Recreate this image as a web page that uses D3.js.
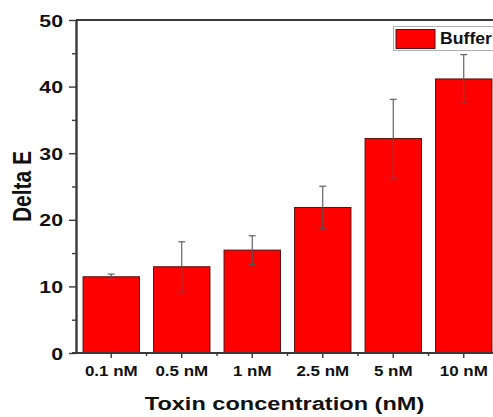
<!DOCTYPE html>
<html>
<head>
<meta charset="utf-8">
<script src="https://cdn.jsdelivr.net/npm/d3@7"></script>
<style>
  html, body { margin: 0; padding: 0; background: #fff; overflow: hidden; }
  text { font-family: "Liberation Sans", Arial, sans-serif; font-weight: bold; fill: #111; }
</style>
</head>
<body>
<svg id="chart" width="493" height="417"></svg>
<script>
const categories = ["0.1 nM", "0.5 nM", "1 nM", "2.5 nM", "5 nM", "10 nM"];
const values = [11.45, 12.95, 15.45, 21.85, 32.2, 41.15];
const errors = [0.4, 3.75, 2.15, 3.2, 5.9, 3.65];
const yTicks = [0, 10, 20, 30, 40, 50];
const yMinorTicks = [5, 15, 25, 35, 45];
const seriesName = "Buffer";
const xTitle = "Toxin concentration (nM)";
const yTitle = "Delta E";

const svg = d3.select("#chart");
const pLeft = 76, pRight = 499, pTop = 20, pBottom = 353;
const axisColor = "#3a3a3a";

const x = d3.scaleBand().domain(categories).range([pLeft, pRight]).paddingInner(0.2).paddingOuter(0.1);
const y = d3.scaleLinear().domain([0, 50]).range([pBottom, pTop]);

// bars
svg.append("g").selectAll("rect").data(values).join("rect")
  .attr("x", (d, i) => x(categories[i]))
  .attr("y", d => y(d))
  .attr("width", x.bandwidth())
  .attr("height", d => y(0) - y(d))
  .attr("fill", "#ff0000")
  .attr("stroke", "#5a1010")
  .attr("stroke-width", 1);

// error bars
const eg = svg.append("g").attr("stroke", "#555").attr("stroke-width", 1.1);
values.forEach((v, i) => {
  const cx = x(categories[i]) + x.bandwidth() / 2;
  eg.append("line").attr("x1", cx).attr("x2", cx).attr("y1", y(v + errors[i])).attr("y2", y(v - errors[i]));
  eg.append("line").attr("x1", cx - 3.5).attr("x2", cx + 3.5).attr("y1", y(v + errors[i])).attr("y2", y(v + errors[i]));
  eg.append("line").attr("x1", cx - 3.5).attr("x2", cx + 3.5).attr("y1", y(v - errors[i])).attr("y2", y(v - errors[i]));
});

// top frame line
svg.append("line").attr("x1", pLeft).attr("x2", pRight).attr("y1", pTop).attr("y2", pTop)
  .attr("stroke", axisColor).attr("stroke-width", 2.2);

// Y axis
const yAxis = svg.append("g").attr("transform", `translate(${pLeft},0)`)
  .call(d3.axisLeft(y).tickValues(yTicks).tickSize(7).tickSizeOuter(0).tickFormat(""));
yAxis.select(".domain").attr("stroke", axisColor).attr("stroke-width", 2.4);
yAxis.selectAll(".tick line").attr("stroke", axisColor).attr("stroke-width", 1.4);
yAxis.selectAll(".tick").append("text")
  .attr("transform", "translate(-13,0) scale(1.25,1)")
  .attr("text-anchor", "end")
  .attr("dy", "0.36em")
  .style("font-size", "17px")
  .text(d => d);
svg.append("g").attr("transform", `translate(${pLeft},0)`)
  .call(d3.axisLeft(y).tickValues(yMinorTicks).tickSize(4).tickFormat(""))
  .call(g => g.select(".domain").remove())
  .selectAll(".tick line").attr("stroke", axisColor).attr("stroke-width", 1.4);

// X axis
const xAxis = svg.append("g").attr("transform", `translate(0,${pBottom})`)
  .call(d3.axisBottom(x).tickSize(5).tickSizeOuter(0).tickFormat(""));
xAxis.select(".domain").attr("stroke", axisColor).attr("stroke-width", 2.2).attr("d", `M${pLeft - 4},0H${pRight}`);
xAxis.selectAll(".tick line").attr("stroke", axisColor).attr("stroke-width", 1.4);
xAxis.selectAll(".tick").append("text")
  .attr("transform", "translate(0,23) scale(1.17,1)")
  .attr("text-anchor", "middle")
  .style("font-size", "14.5px")
  .text(d => d);
// minor x ticks at band boundaries
const step = x.step();
const boundaries = categories.slice(1).map(c => x(c) - step * x.paddingInner() / 2);
svg.append("g").selectAll("line").data(boundaries).join("line")
  .attr("x1", d => d).attr("x2", d => d)
  .attr("y1", pBottom).attr("y2", pBottom + 3)
  .attr("stroke", axisColor).attr("stroke-width", 1.4);

// axis titles
svg.append("text")
  .attr("transform", `translate(284.5,409.5) scale(1.24,1)`)
  .attr("text-anchor", "middle")
  .style("font-size", "19px")
  .text(xTitle);
svg.append("text")
  .attr("transform", `translate(30.5,186.5) rotate(-90) scale(1,1.25)`)
  .attr("text-anchor", "middle")
  .style("font-size", "21px")
  .text(yTitle);

// legend
const lg = svg.append("g");
lg.append("rect").attr("x", 393.5).attr("y", 26.5).attr("width", 120).attr("height", 24)
  .attr("fill", "#fff").attr("stroke", "#b0b0b0").attr("stroke-width", 1);
lg.append("rect").attr("x", 396).attr("y", 29.5).attr("width", 39).attr("height", 19)
  .attr("fill", "#ff0000").attr("stroke", "#5a1010").attr("stroke-width", 1);
lg.append("text")
  .attr("transform", "translate(440,44.3) scale(1.07,1)")
  .style("font-size", "16.5px")
  .text(seriesName);
</script>
</body>
</html>
